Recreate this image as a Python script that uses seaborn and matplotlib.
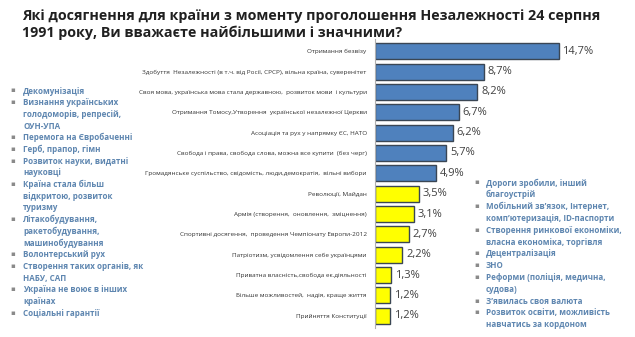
import matplotlib
matplotlib.use("Agg")
import matplotlib.pyplot as plt
import seaborn as sns
import pandas as pd

title = "Які досягнення для країни з моменту проголошення Незалежності 24 серпня\n1991 року, Ви вважаєте найбільшими і значними?"

categories = [
    "Отримання безвізу",
    "Здобуття  Незалежності (в т.ч. від Росії, СРСР), вільна країна, суверенітет",
    "Своя мова, українська мова стала державною,  розвиток мови  і культури",
    "Отримання Томосу,Утворення  української незалежної Церкви",
    "Асоціація та рух у напрямку ЄС, НАТО",
    "Свобода і права, свобода слова, можна все купити  (без черг)",
    "Громадянське суспільство, свідомість, люди,демократія,  вільні вибори",
    "Революції, Майдан",
    "Армія (створення,  оновлення,  зміцнення)",
    "Спортивні досягення,  проведення Чемпіонату Европи-2012",
    "Патріотизм, усвідомлення себе українцями",
    "Приватна власність,свобода ек.діяльності",
    "Більше можливостей,  надія, краще життя",
    "Прийняття Конституції",
]
values = [14.7, 8.7, 8.2, 6.7, 6.2, 5.7, 4.9, 3.5, 3.1, 2.7, 2.2, 1.3, 1.2, 1.2]
groups = ["top"] * 7 + ["other"] * 7

left_notes = [
    ["Декомунізація"],
    ["Визнання українських", "голодоморів, репресій,", "ОУН-УПА"],
    ["Перемога на Євробаченні"],
    ["Герб, прапор, гімн"],
    ["Розвиток науки, видатні", "науковці"],
    ["Країна стала більш", "відкритою, розвиток", "туризму"],
    ["Літакобудування,", "ракетобудування,", "машинобудування"],
    ["Волонтерський рух"],
    ["Створення таких органів, як", "НАБУ, САП"],
    ["Україна не воює в інших", "країнах"],
    ["Соціальні гарантії"],
]
right_notes = [
    ["Дороги зробили, інший", "благоустрій"],
    ["Мобільний зв’язок, Інтернет,", "комп’ютеризація, ID-паспорти"],
    ["Створення ринкової економіки,", "власна економіка, торгівля"],
    ["Децентралізація"],
    ["ЗНО"],
    ["Реформи (поліція, медична,", "судова)"],
    ["З’явилась своя валюта"],
    ["Розвиток освіти, можливість", "навчатись за кордоном"],
]

df = pd.DataFrame({"cat": categories, "val": values, "grp": groups})

sns.set_theme(style="white")
plt.rcParams["font.family"] = ["Open Sans", "DejaVu Sans"]

W, H = 635, 337
fig = plt.figure(figsize=(W / 100, H / 100), dpi=100)
fig.patch.set_facecolor("white")

ax = fig.add_axes([375 / W, 1 - 328 / H, 200 / W, (328 - 39) / H])
sns.barplot(data=df, x="val", y="cat", hue="grp", dodge=False, legend=False,
            palette={"top": "#4F81BD", "other": "#FFFF00"}, saturation=1,
            width=0.78, edgecolor="#3A4654", linewidth=1.0, ax=ax)
ax.set_xlim(0, 16)
ax.set_ylim(len(categories) - 0.4, -0.6)
ax.set_xlabel("")
ax.set_ylabel("")
ax.set_xticks([])
ax.tick_params(axis="y", length=0, pad=6, labelsize=4.6, labelcolor="#333333")
for s in ["top", "right", "bottom"]:
    ax.spines[s].set_visible(False)
ax.spines["left"].set_color("#B0B0B0")
ax.spines["left"].set_linewidth(0.8)

for i, v in enumerate(values):
    ax.text(v + 0.3, i, f"{v:.1f}%".replace(".", ","), va="center", ha="left",
            fontsize=8, color="#404040")

fig.text(22 / W, 1 - 9 / H, title, ha="left", va="top", fontsize=10.3,
         fontweight="bold", color="#202020", linespacing=1.25)

note_color = "#5E86B0"
step = 11.7
y = 91
for item in left_notes:
    fig.text(10 / W, 1 - y / H, "▪", ha="left", va="center", fontsize=5, color="#8A8A8A")
    for line in item:
        fig.text(23 / W, 1 - y / H, line, ha="left", va="center", fontsize=5.8,
                 fontweight="bold", color=note_color)
        y += step

y = 183
for item in right_notes:
    fig.text(474 / W, 1 - y / H, "▪", ha="left", va="center", fontsize=5, color="#8A8A8A")
    for line in item:
        fig.text(486 / W, 1 - y / H, line, ha="left", va="center", fontsize=5.8,
                 fontweight="bold", color=note_color)
        y += 11.8

fig.savefig("out.png", dpi=100, facecolor="white")
